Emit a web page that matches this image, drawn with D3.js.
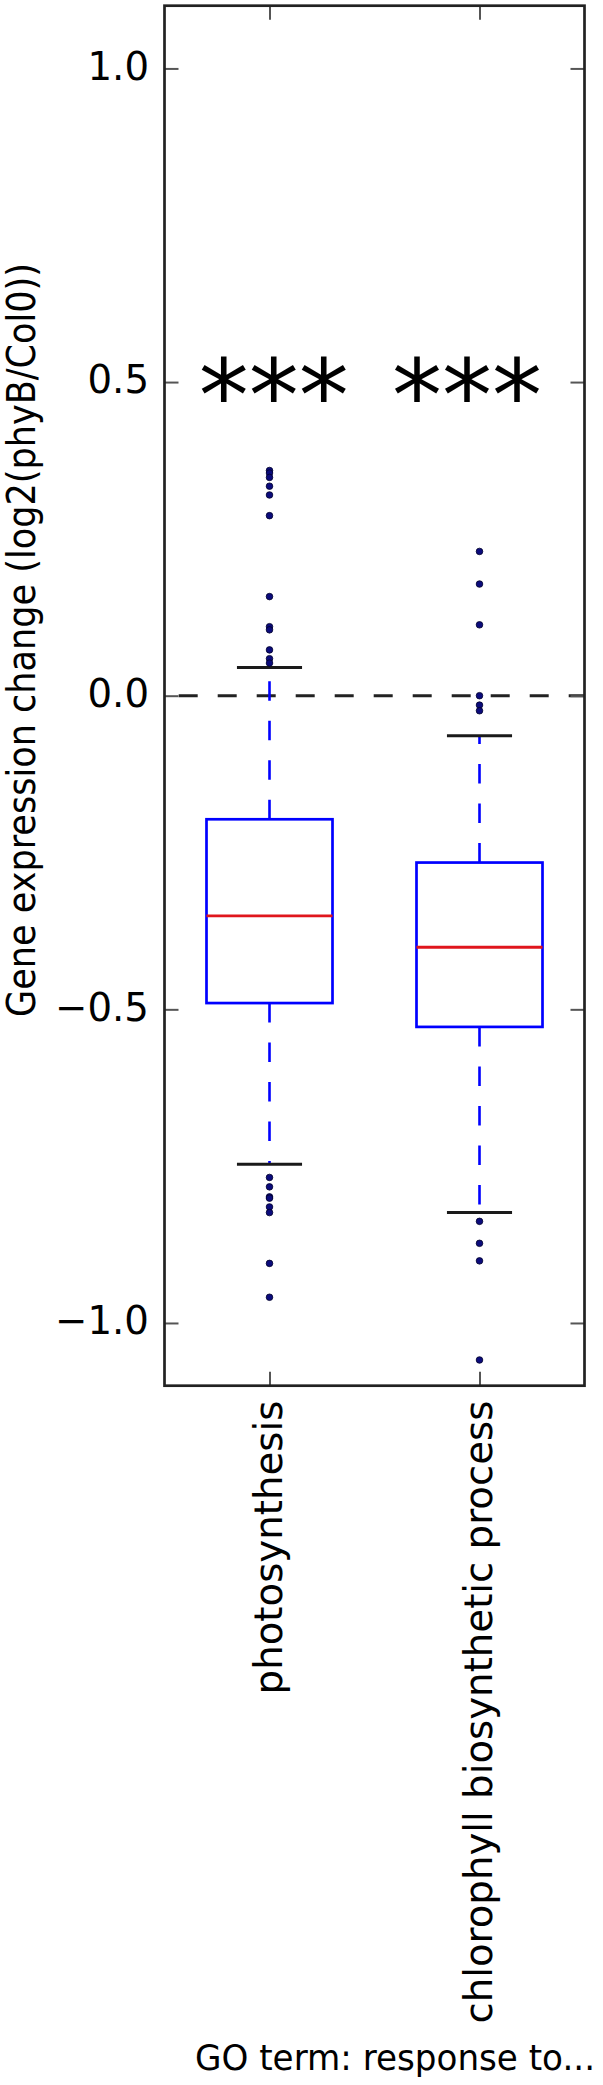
<!DOCTYPE html>
<html>
<head>
<meta charset="utf-8">
<script src="https://cdn.jsdelivr.net/npm/d3@7"></script>
<style>
  body { margin: 0; background: #fff; }
  text { font-family: "DejaVu Sans", sans-serif; }
</style>
</head>
<body>
<script>
// Data
const categories = ["photosynthesis", "chlorophyll biosynthetic process"];
const q1 = [-0.490, -0.528];
const medians = [-0.351, -0.401];
const q3 = [-0.197, -0.266];
const whiskerLow = [-0.747, -0.824];
const whiskerHigh = [0.045, -0.064];
const outliersPhoto = [0.359, 0.355, 0.348, 0.334, 0.320, 0.287, 0.158, 0.110, 0.105, 0.073, 0.059, 0.052,
                       -0.768, -0.783, -0.799, -0.801, -0.815, -0.824, -0.905, -0.959];
const outliersChloro = [0.230, 0.178, 0.113, 0.0, -0.015, -0.024,
                        -0.838, -0.873, -0.901, -1.059];
const yTicks = [-1.0, -0.5, 0.0, 0.5, 1.0];
const signifLabels = ["***", "***"];
const signifX = [1.02, 1.94];
const signifY = [0.5, 0.5];
const yLabel = "Gene expression change (log2(phyB/Col0))";
const xLabel = "GO term: response to...";

// Layout
const svgWidth = 603, svgHeight = 2085;
const margin = {left: 164.5, right: 584.5, top: 5.7, bottom: 1385.7};
const tickFont = 38.7, xTickFont = 38.7;

const svg = d3.select("body").append("svg")
    .attr("width", svgWidth)
    .attr("height", svgHeight)
    .style("display", "block");

svg.append("rect").attr("width", svgWidth).attr("height", svgHeight).attr("fill", "#fff");

const x = d3.scaleLinear().domain([0.5, 2.5]).range([margin.left, margin.right]);
const y = d3.scaleLinear().domain([-1.1, 1.1]).range([margin.bottom, margin.top]);

const positions = categories.map((d, i) => i + 1);
const boxWidth = 0.6, capWidth = 0.31;

// zero reference line
svg.append("line")
    .attr("x1", margin.left).attr("x2", margin.right)
    .attr("y1", y(0)).attr("y2", y(0))
    .attr("stroke", "#222")
    .attr("stroke-width", 3)
    .attr("stroke-dasharray", "19,20")
    .attr("stroke-dashoffset", 24.8);

const boxes = svg.selectAll(".box")
    .data(positions)
    .enter().append("g")
    .attr("class", "box");

// whiskers (dashed, from box edges outward)
boxes.append("line")
    .attr("x1", d => x(d)).attr("x2", d => x(d))
    .attr("y1", (d, i) => y(q3[i])).attr("y2", (d, i) => y(whiskerHigh[i]))
    .attr("stroke", "#0000ff").attr("stroke-width", 2.6)
    .attr("stroke-dasharray", "19.5,20");
boxes.append("line")
    .attr("x1", d => x(d)).attr("x2", d => x(d))
    .attr("y1", (d, i) => y(q1[i])).attr("y2", (d, i) => y(whiskerLow[i]))
    .attr("stroke", "#0000ff").attr("stroke-width", 2.6)
    .attr("stroke-dasharray", "19.5,20");

// caps
[whiskerHigh, whiskerLow].forEach(function(arr) {
    boxes.append("line")
        .attr("x1", d => x(d - capWidth / 2)).attr("x2", d => x(d + capWidth / 2))
        .attr("y1", (d, i) => y(arr[i])).attr("y2", (d, i) => y(arr[i]))
        .attr("stroke", "#1a1a1a").attr("stroke-width", 3);
});

// boxes
boxes.append("rect")
    .attr("x", d => x(d - boxWidth / 2))
    .attr("width", x(boxWidth) - x(0))
    .attr("y", (d, i) => y(q3[i]))
    .attr("height", (d, i) => y(q1[i]) - y(q3[i]))
    .attr("fill", "none")
    .attr("stroke", "#0000ff").attr("stroke-width", 2.7);

// medians
boxes.append("line")
    .attr("x1", d => x(d - boxWidth / 2)).attr("x2", d => x(d + boxWidth / 2))
    .attr("y1", (d, i) => y(medians[i])).attr("y2", (d, i) => y(medians[i]))
    .attr("stroke", "#e0161c").attr("stroke-width", 2.8);

// outliers
[outliersPhoto, outliersChloro].forEach(function(vals, i) {
    svg.selectAll(".flier" + i)
        .data(vals)
        .enter().append("circle")
        .attr("class", "flier" + i)
        .attr("cx", x(positions[i]))
        .attr("cy", d => y(d))
        .attr("r", 3.3)
        .attr("fill", "#0b0b7c")
        .attr("stroke", "#00002a").attr("stroke-width", 0.8);
});

// significance stars
svg.selectAll(".signif")
    .data(signifLabels)
    .enter().append("text")
    .attr("class", "signif")
    .attr("x", (d, i) => x(signifX[i]))
    .attr("y", (d, i) => y(signifY[i]))
    .attr("dy", 49)
    .attr("text-anchor", "middle")
    .style("font-size", "100px")
    .attr("fill", "#000")
    .text(d => d);

// axes (ticks pointing inward)
function styleAxis(g) {
    g.select(".domain").remove();
    g.selectAll(".tick line").attr("stroke", "#555").attr("stroke-width", 2);
    g.selectAll("text").attr("fill", "#000").style("font-size", tickFont + "px")
        .style("font-family", "DejaVu Sans");
}

svg.append("g")
    .attr("transform", `translate(${margin.left},0)`)
    .call(d3.axisLeft(y).tickValues(yTicks).tickSize(-14).tickPadding(15.5).tickFormat(d3.format(".1f")))
    .call(styleAxis)
    .selectAll("text").attr("dy", "0.28em");

svg.append("g")
    .attr("transform", `translate(${margin.right},0)`)
    .call(d3.axisRight(y).tickValues(yTicks).tickSize(-14).tickFormat(""))
    .call(styleAxis);

svg.append("g")
    .attr("transform", `translate(0,${margin.top})`)
    .call(d3.axisTop(x).tickValues(positions).tickSize(-14).tickFormat(""))
    .call(styleAxis);

const xAxis = svg.append("g")
    .attr("transform", `translate(0,${margin.bottom})`)
    .call(d3.axisBottom(x).tickValues(positions).tickSize(-14).tickFormat((d, i) => categories[i]))
    .call(styleAxis);

xAxis.selectAll("text")
    .style("font-size", xTickFont + "px")
    .attr("transform", "rotate(-90)")
    .attr("text-anchor", "end")
    .attr("x", -15)
    .attr("y", 12)
    .attr("dy", 0);

// frame
svg.append("rect")
    .attr("x", margin.left).attr("y", margin.top)
    .attr("width", margin.right - margin.left).attr("height", margin.bottom - margin.top)
    .attr("fill", "none")
    .attr("stroke", "#222").attr("stroke-width", 2.7);

// axis labels (glyphs a bit taller than their run length implies in the source)
svg.append("text")
    .attr("transform", "translate(35,640) rotate(-90)")
    .attr("text-anchor", "middle")
    .attr("textLength", 754)
    .attr("lengthAdjust", "spacingAndGlyphs")
    .style("font-size", "39px")
    .text(yLabel);

svg.append("text")
    .attr("x", 395)
    .attr("y", 2070)
    .attr("text-anchor", "middle")
    .attr("textLength", 400)
    .attr("lengthAdjust", "spacingAndGlyphs")
    .style("font-size", "36px")
    .text(xLabel);
</script>
</body>
</html>
